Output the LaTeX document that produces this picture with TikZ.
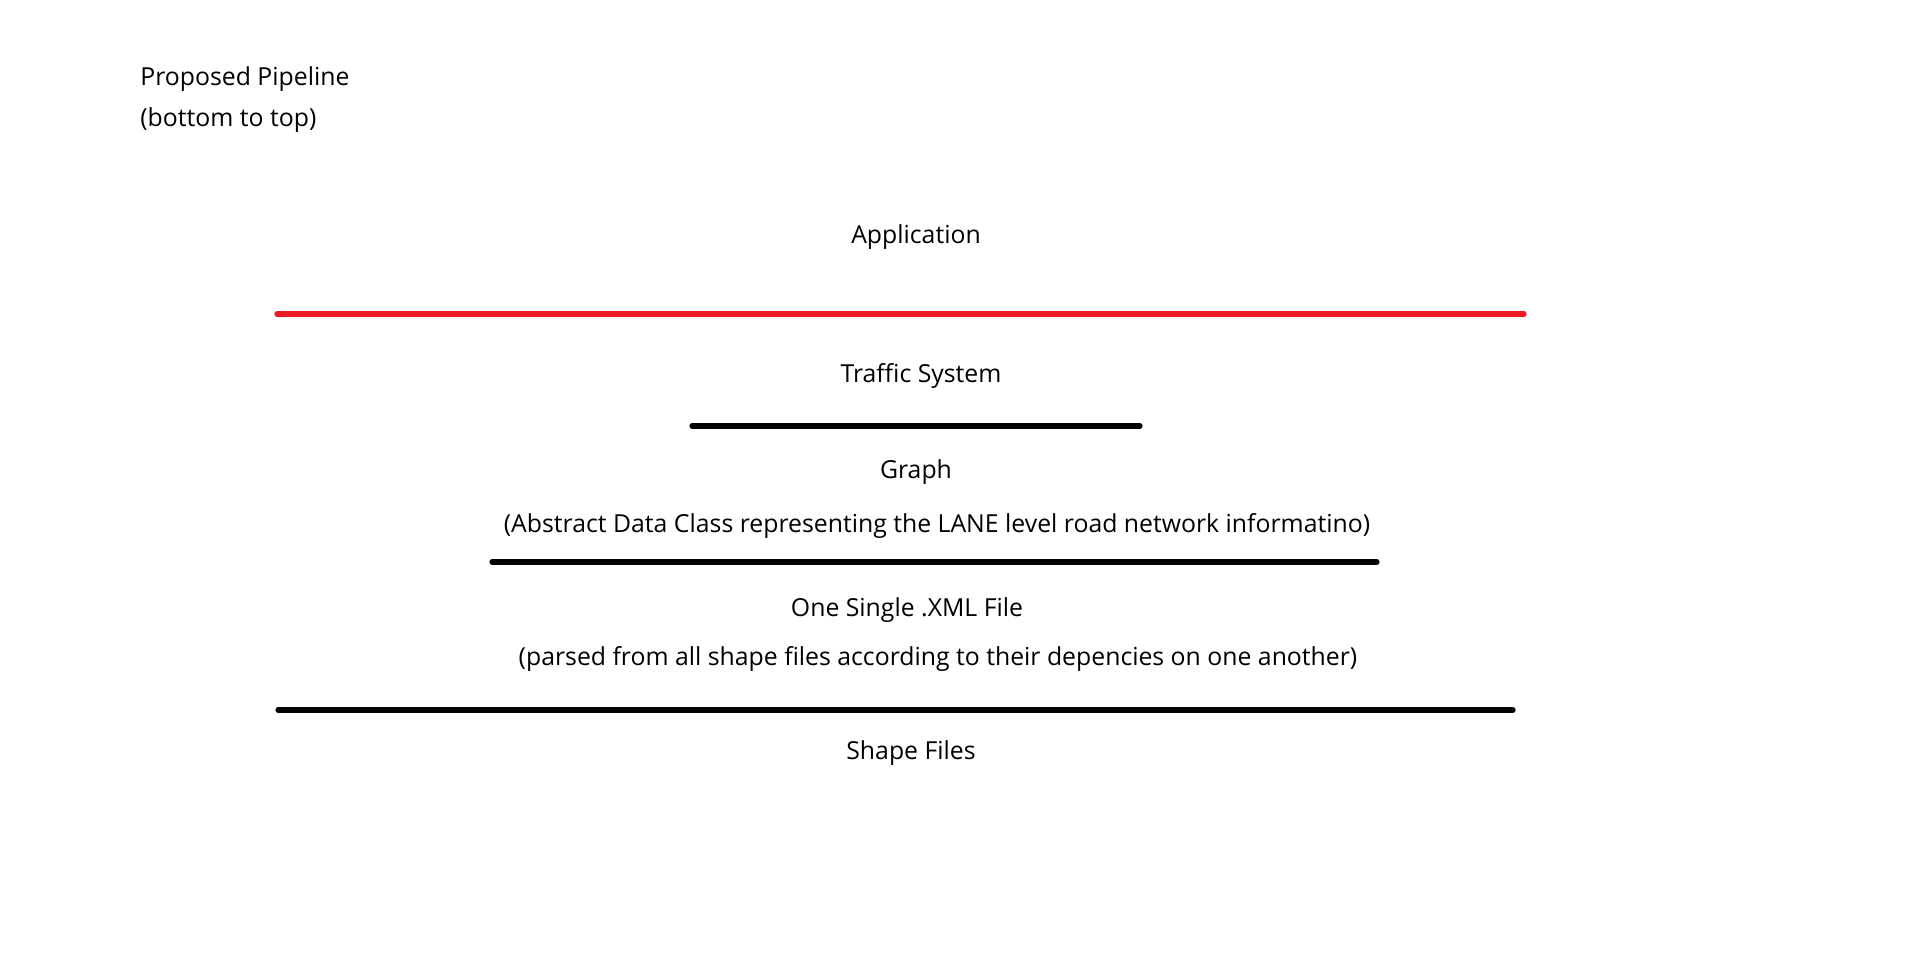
\documentclass[tikz,border=0pt]{standalone}
\usepackage{fontspec}
\setmainfont{Open Sans}
\definecolor{linered}{RGB}{237,28,36}
\begin{document}
\begin{tikzpicture}[x=0.5pt,y=-0.5pt,
  lbl/.style={font=\fontsize{12.4}{14}\selectfont, inner sep=0pt, anchor=center},
  layer/.style={line width=2.6pt, line cap=round}]
\useasboundingbox (0,0) rectangle (1920,960);
\node[lbl, anchor=west] (title) at (140,79) {Proposed Pipeline};
\node[lbl, anchor=west] (order) at (140,120.5) {(bottom to top)};
\node[lbl] (app) at (916,237) {Application};
\coordinate (r1) at (277,314);
\coordinate (r2) at (1524,314);
\draw[layer, linered] (r1) -- (r2);
\node[lbl] (traffic) at (921,376) {Traffic System};
\coordinate (a1) at (692,426);
\coordinate (a2) at (1140,426);
\draw[layer] (a1) -- (a2);
\node[lbl] (graph) at (916,472) {Graph};
\node[lbl] (graphnote) at (937,526) {(Abstract Data Class representing the LANE level road network informatino)};
\coordinate (b1) at (492,562);
\coordinate (b2) at (1377,562);
\draw[layer] (b1) -- (b2);
\node[lbl] (xml) at (907,610) {One Single .XML File};
\node[lbl] (xmlnote) at (938,659) {(parsed from all shape files according to their depencies on one another)};
\coordinate (c1) at (278,710);
\coordinate (c2) at (1513,710);
\draw[layer] (c1) -- (c2);
\node[lbl] (shape) at (911,753) {Shape Files};
\end{tikzpicture}
\end{document}
